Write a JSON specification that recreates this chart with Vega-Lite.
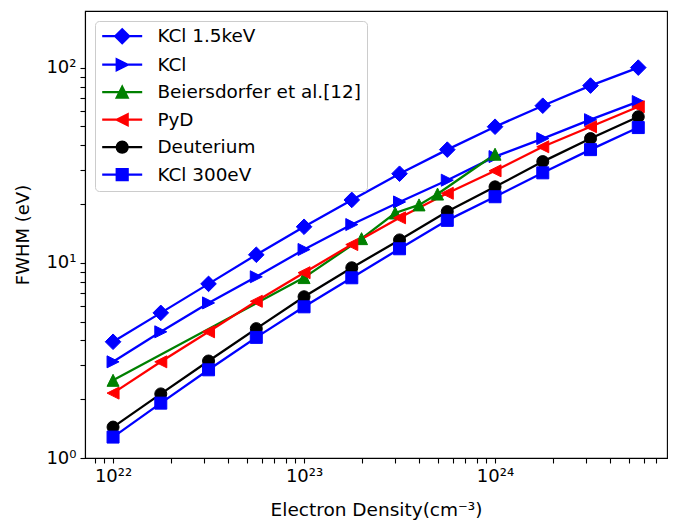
{
  "$schema": "https://vega.github.io/schema/vega-lite/v6.json",
  "width": 582,
  "height": 447,
  "autosize": {"type": "none"},
  "padding": {"left": 85, "top": 11, "right": 6, "bottom": 63},
  "background": "white",
  "data": {
    "values": [
      {"series": "KCl 1.5keV", "n": 1e22, "fwhm": 3.94},
      {"series": "KCl 1.5keV", "n": 1.778e22, "fwhm": 5.54},
      {"series": "KCl 1.5keV", "n": 3.162e22, "fwhm": 7.8},
      {"series": "KCl 1.5keV", "n": 5.623e22, "fwhm": 11.0},
      {"series": "KCl 1.5keV", "n": 1e23, "fwhm": 15.3},
      {"series": "KCl 1.5keV", "n": 1.778e23, "fwhm": 21.0},
      {"series": "KCl 1.5keV", "n": 3.162e23, "fwhm": 28.6},
      {"series": "KCl 1.5keV", "n": 5.623e23, "fwhm": 38},
      {"series": "KCl 1.5keV", "n": 1e24, "fwhm": 49.8},
      {"series": "KCl 1.5keV", "n": 1.778e24, "fwhm": 63.8},
      {"series": "KCl 1.5keV", "n": 3.162e24, "fwhm": 80.9},
      {"series": "KCl 1.5keV", "n": 5.623e24, "fwhm": 100},
      {"series": "KCl", "n": 1e22, "fwhm": 3.11},
      {"series": "KCl", "n": 1.778e22, "fwhm": 4.43},
      {"series": "KCl", "n": 3.162e22, "fwhm": 6.23},
      {"series": "KCl", "n": 5.623e22, "fwhm": 8.48},
      {"series": "KCl", "n": 1e23, "fwhm": 11.7},
      {"series": "KCl", "n": 1.778e23, "fwhm": 15.7},
      {"series": "KCl", "n": 3.162e23, "fwhm": 20.5},
      {"series": "KCl", "n": 5.623e23, "fwhm": 26.5},
      {"series": "KCl", "n": 1e24, "fwhm": 35},
      {"series": "KCl", "n": 1.778e24, "fwhm": 43.3},
      {"series": "KCl", "n": 3.162e24, "fwhm": 54.1},
      {"series": "KCl", "n": 5.623e24, "fwhm": 67},
      {"series": "Beiersdorfer et al.[12]", "n": 1e22, "fwhm": 2.5},
      {"series": "Beiersdorfer et al.[12]", "n": 1e23, "fwhm": 8.4},
      {"series": "Beiersdorfer et al.[12]", "n": 2e23, "fwhm": 13.3},
      {"series": "Beiersdorfer et al.[12]", "n": 3e23, "fwhm": 18},
      {"series": "Beiersdorfer et al.[12]", "n": 4e23, "fwhm": 19.8},
      {"series": "Beiersdorfer et al.[12]", "n": 5e23, "fwhm": 22.5},
      {"series": "Beiersdorfer et al.[12]", "n": 1e24, "fwhm": 36},
      {"series": "PyD", "n": 1e22, "fwhm": 2.15},
      {"series": "PyD", "n": 1.778e22, "fwhm": 3.11},
      {"series": "PyD", "n": 3.162e22, "fwhm": 4.43},
      {"series": "PyD", "n": 5.623e22, "fwhm": 6.35},
      {"series": "PyD", "n": 1e23, "fwhm": 8.9},
      {"series": "PyD", "n": 1.778e23, "fwhm": 12.4},
      {"series": "PyD", "n": 3.162e23, "fwhm": 17.0},
      {"series": "PyD", "n": 5.623e23, "fwhm": 22.7},
      {"series": "PyD", "n": 1e24, "fwhm": 29.6},
      {"series": "PyD", "n": 1.778e24, "fwhm": 39.3},
      {"series": "PyD", "n": 3.162e24, "fwhm": 49.8},
      {"series": "PyD", "n": 5.623e24, "fwhm": 63},
      {"series": "Deuterium", "n": 1e22, "fwhm": 1.44},
      {"series": "Deuterium", "n": 1.778e22, "fwhm": 2.13},
      {"series": "Deuterium", "n": 3.162e22, "fwhm": 3.14},
      {"series": "Deuterium", "n": 5.623e22, "fwhm": 4.6},
      {"series": "Deuterium", "n": 1e23, "fwhm": 6.7},
      {"series": "Deuterium", "n": 1.778e23, "fwhm": 9.43},
      {"series": "Deuterium", "n": 3.162e23, "fwhm": 13.1},
      {"series": "Deuterium", "n": 5.623e23, "fwhm": 18.3},
      {"series": "Deuterium", "n": 1e24, "fwhm": 24.5},
      {"series": "Deuterium", "n": 1.778e24, "fwhm": 33},
      {"series": "Deuterium", "n": 3.162e24, "fwhm": 43.3},
      {"series": "Deuterium", "n": 5.623e24, "fwhm": 56},
      {"series": "KCl 300eV", "n": 1e22, "fwhm": 1.28},
      {"series": "KCl 300eV", "n": 1.778e22, "fwhm": 1.91},
      {"series": "KCl 300eV", "n": 3.162e22, "fwhm": 2.83},
      {"series": "KCl 300eV", "n": 5.623e22, "fwhm": 4.15},
      {"series": "KCl 300eV", "n": 1e23, "fwhm": 5.95},
      {"series": "KCl 300eV", "n": 1.778e23, "fwhm": 8.38},
      {"series": "KCl 300eV", "n": 3.162e23, "fwhm": 11.8},
      {"series": "KCl 300eV", "n": 5.623e23, "fwhm": 16.5},
      {"series": "KCl 300eV", "n": 1e24, "fwhm": 21.8},
      {"series": "KCl 300eV", "n": 1.778e24, "fwhm": 28.9},
      {"series": "KCl 300eV", "n": 3.162e24, "fwhm": 38},
      {"series": "KCl 300eV", "n": 5.623e24, "fwhm": 49.3}
    ]
  },
  "encoding": {
    "x": {
      "field": "n", "type": "quantitative",
      "scale": {"type": "log", "domain": [7.13e21, 7.95e24], "nice": false},
      "axis": {
        "title": "Electron Density(cm⁻³)",
        "titleFontSize": 18.5,
        "values": [8e21, 9e21, 1e22, 2e22, 3e22, 4e22, 5e22, 6e22, 7e22, 8e22, 9e22, 1e23, 2e23, 3e23, 4e23, 5e23, 6e23, 7e23, 8e23, 9e23, 1e24, 2e24, 3e24, 4e24, 5e24, 6e24, 7e24],
        "labelExpr": "datum.value == 1e22 ? '10²²' : datum.value == 1e23 ? '10²³' : datum.value == 1e24 ? '10²⁴' : ''",
        "labelFlush": false,
        "labelOverlap": false,
        "titlePadding": 15,
        "encode": {"ticks": {"update": {"y2": {"signal": "(datum.value == 1e22 || datum.value == 1e23 || datum.value == 1e24) ? 5 : 3"}}}}
      }
    },
    "y": {
      "field": "fwhm", "type": "quantitative",
      "scale": {"type": "log", "domain": [1, 195], "nice": false},
      "axis": {
        "title": "FWHM (eV)",
        "values": [1, 2, 3, 4, 5, 6, 7, 8, 9, 10, 20, 30, 40, 50, 60, 70, 80, 90, 100],
        "labelExpr": "datum.value == 1 ? '10⁰' : datum.value == 10 ? '10¹' : datum.value == 100 ? '10²' : ''",
        "labelFlush": false,
        "labelOverlap": false,
        "titlePadding": 13,
        "encode": {"ticks": {"update": {"x2": {"signal": "(datum.value == 1 || datum.value == 10 || datum.value == 100) ? -5 : -3"}}}}
      }
    }
  },
  "layer": [
    {
      "mark": {"type": "line", "strokeWidth": 2.3},
      "encoding": {
        "color": {
          "field": "series", "type": "nominal", "legend": null,
          "scale": {
            "domain": ["KCl 1.5keV", "KCl", "Beiersdorfer et al.[12]", "PyD", "Deuterium", "KCl 300eV"],
            "range": ["#0000ff", "#0000ff", "#008000", "#ff0000", "#000000", "#0000ff"]
          }
        }
      }
    },
    {
      "mark": {"type": "point", "filled": true, "size": 144, "strokeWidth": 1, "opacity": 1},
      "encoding": {
        "color": {"field": "series", "type": "nominal", "legend": null},
        "stroke": {
          "field": "series", "type": "nominal", "legend": null,
          "scale": {
            "domain": ["KCl 1.5keV", "KCl", "Beiersdorfer et al.[12]", "PyD", "Deuterium", "KCl 300eV"],
            "range": ["#0000ff", "#0000ff", "#008000", "#ff0000", "#000000", "#0000ff"]
          }
        },
        "shape": {
          "field": "series", "type": "nominal", "legend": null,
          "scale": {
            "domain": ["KCl 1.5keV", "KCl", "Beiersdorfer et al.[12]", "PyD", "Deuterium", "KCl 300eV"],
            "range": ["M0,-1.3L1.3,0L0,1.3L-1.3,0Z", "M1,0L-1,-1L-1,1Z", "M0,-1L1,1L-1,1Z", "M-1,0L1,-1L1,1Z", "circle", "square"]
          }
        }
      }
    },
    {
      "mark": {"type": "point", "opacity": 0, "size": 10},
      "encoding": {
        "fill": {
          "field": "series", "type": "nominal",
          "scale": {
            "domain": ["KCl 1.5keV", "KCl", "Beiersdorfer et al.[12]", "PyD", "Deuterium", "KCl 300eV"],
            "range": ["#0000ff", "#0000ff", "#008000", "#ff0000", "#000000", "#0000ff"]
          },
          "legend": {
            "title": null, "orient": "top-left", "offset": 10,
            "symbolSize": 100, "symbolStrokeWidth": 2.2, "symbolOpacity": 1,
            "labelFont": "DejaVu Sans", "labelFontSize": 18.4, "labelColor": "black",
            "labelLimit": 400, "labelOffset": 38, "rowPadding": 6.5, "padding": 6,
            "strokeColor": "#cccccc", "fillColor": "white", "cornerRadius": 4
          }
        },
        "stroke": {
          "field": "series", "type": "nominal",
          "scale": {
            "domain": ["KCl 1.5keV", "KCl", "Beiersdorfer et al.[12]", "PyD", "Deuterium", "KCl 300eV"],
            "range": ["#0000ff", "#0000ff", "#008000", "#ff0000", "#000000", "#0000ff"]
          },
          "legend": {
            "title": null, "orient": "top-left", "offset": 10,
            "symbolSize": 100, "symbolStrokeWidth": 2.2, "symbolOpacity": 1,
            "labelFont": "DejaVu Sans", "labelFontSize": 18.4, "labelColor": "black",
            "labelLimit": 400, "labelOffset": 38, "rowPadding": 6.5, "padding": 6,
            "strokeColor": "#cccccc", "fillColor": "white", "cornerRadius": 4
          }
        },
        "shape": {
          "field": "series", "type": "nominal",
          "scale": {
            "domain": ["KCl 1.5keV", "KCl", "Beiersdorfer et al.[12]", "PyD", "Deuterium", "KCl 300eV"],
            "range": [
              "M-1.6,0L6.4,0M2.4,-1.4L3.8,0L2.4,1.4L1,0Z",
              "M-1.6,0L6.4,0M3.5,0L1.3,-1.1L1.3,1.1Z",
              "M-1.6,0L6.4,0M2.4,-1.1L3.5,1.1L1.3,1.1Z",
              "M-1.6,0L6.4,0M1.3,0L3.5,-1.1L3.5,1.1Z",
              "M-1.6,0L6.4,0M3.5,0L3.416,0.421L3.178,0.778L2.821,1.016L2.4,1.1L1.979,1.016L1.622,0.778L1.384,0.421L1.3,0L1.384,-0.421L1.622,-0.778L1.979,-1.016L2.4,-1.1L2.821,-1.016L3.178,-0.778L3.416,-0.421Z",
              "M-1.6,0L6.4,0M1.3,-1.1L3.5,-1.1L3.5,1.1L1.3,1.1Z"
            ]
          },
          "legend": {
            "title": null, "orient": "top-left", "offset": 10,
            "symbolSize": 100, "symbolStrokeWidth": 2.2, "symbolOpacity": 1,
            "labelFont": "DejaVu Sans", "labelFontSize": 18.4, "labelColor": "black",
            "labelLimit": 400, "labelOffset": 38, "rowPadding": 6.5, "padding": 6,
            "strokeColor": "#cccccc", "fillColor": "white", "cornerRadius": 4
          }
        }
      }
    }
  ],
  "resolve": {"scale": {"shape": "independent", "stroke": "independent", "fill": "independent"}},
  "config": {
    "view": {"stroke": "black", "strokeWidth": 1.1},
    "axis": {
      "grid": false,
      "domainColor": "black",
      "domainWidth": 1.1,
      "tickColor": "black",
      "tickWidth": 1.1,
      "tickSize": 5,
      "labelPadding": 4,
      "labelColor": "black",
      "titleColor": "black",
      "labelFont": "DejaVu Sans",
      "titleFont": "DejaVu Sans",
      "labelFontSize": 18,
      "titleFontSize": 18,
      "titleFontWeight": "normal"
    }
  }
}
